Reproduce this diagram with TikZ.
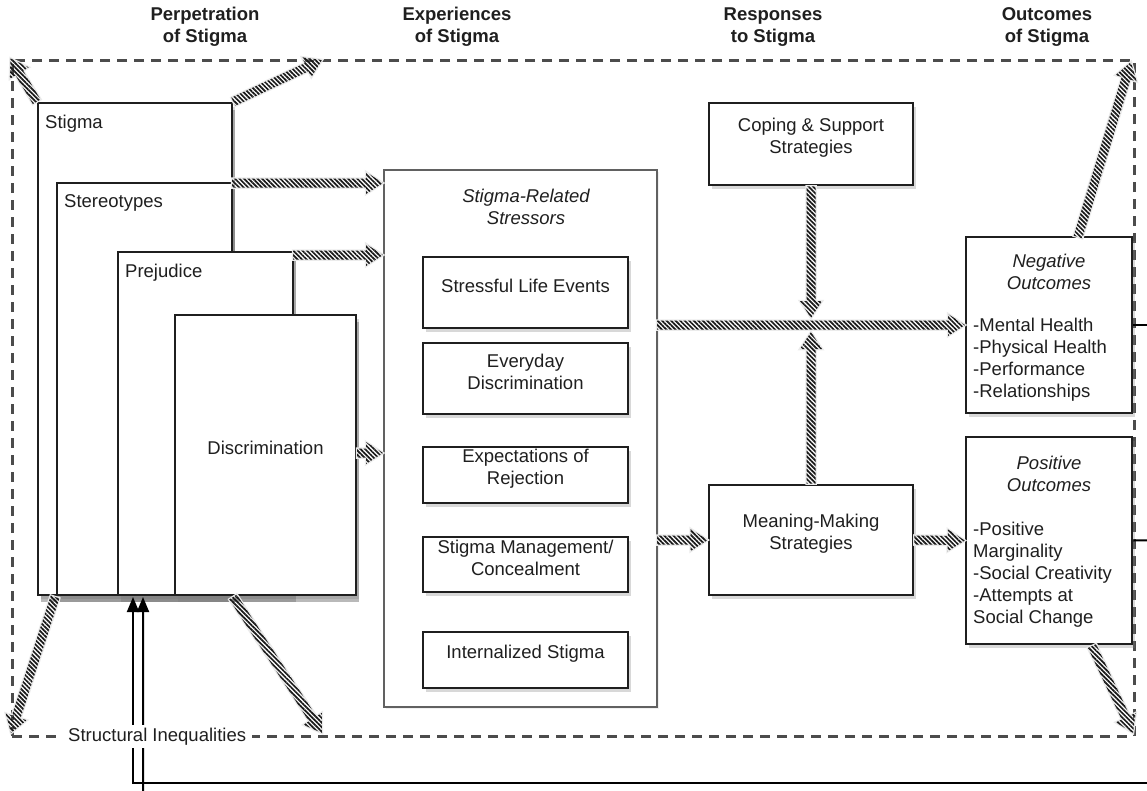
\documentclass[tikz,border=0pt]{standalone}
\usepackage{fontspec}
\setmainfont{Liberation Sans}
\usetikzlibrary{calc,fit,shadows,patterns.meta,arrows.meta}

\tikzset{
  txt/.style={font=\fontsize{18.5}{22}\selectfont, inner sep=0pt, text=black!88},
  ital/.style={txt, font=\fontsize{18.5}{22}\selectfont\itshape},
  head/.style={txt, font=\fontsize{18.5}{22}\selectfont\bfseries, align=center},
  box/.style={draw=black!88, line width=2.6pt, fill=white, inner sep=0pt,
    drop shadow={shadow xshift=2.5pt, shadow yshift=-3.5pt, opacity=0.3},
    font=\fontsize{18.5}{22}\selectfont, text=black!88, align=center},
  stackbox/.style={box, drop shadow={shadow xshift=3pt, shadow yshift=-7pt, opacity=0.55}},
  cbox/.style={draw=black!62, line width=1.8pt, fill=white, inner sep=0pt,
    drop shadow={shadow xshift=2pt, shadow yshift=-2pt, opacity=0.12}},
  dashbox/.style={draw=black!70, line width=3pt, dash pattern=on 10pt off 7pt, inner sep=0pt},
  hatch/.style={pattern={Lines[angle=-45,distance=3.2pt,line width=1.7pt]}, pattern color=black!90,
    preaction={draw=black!8, line width=2.5pt}},
  fb/.style={draw=black, line width=2pt, -{Triangle[length=15pt,width=12pt]}},
}

% hatched fat arrow between two named points
\newcommand\harr[2]{%
  \coordinate (hh) at ($(#2)!17pt!(#1)$);
  \path[hatch] ($(#1)!4.5pt!90:(#2)$) -- ($(hh)!4.5pt!90:(#2)$) -- ($(hh)!11pt!90:(#2)$)
    -- (#2) -- ($(hh)!11pt!-90:(#2)$) -- ($(hh)!4.5pt!-90:(#2)$) -- ($(#1)!4.5pt!-90:(#2)$) -- cycle;}

\begin{document}
\begin{tikzpicture}[x=1pt,y={(0pt,-1pt)}]
\useasboundingbox (0,0) rectangle (1147,790);
\clip (0,0) rectangle (1147,790);

% column headings
\node[head] (h1) at (205,27) {Perpetration\\of Stigma};
\node[head] (h2) at (457,27) {Experiences\\of Stigma};
\node[head] (h3) at (773,27) {Responses\\to Stigma};
\node[head] (h4) at (1047,27) {Outcomes\\of Stigma};

% outer dashed frame
\node[dashbox, fit={(12,60) (1134,736)}] (outer) {};

% feedback line ends
\coordinate (f1) at (133,597);
\coordinate (f2) at (143,597);

% left stack
\node[stackbox, fit={(38,103) (232,595)}] (stigma) {};
\node[stackbox, fit={(57,183) (232,595)}] (ster) {};
\node[stackbox, fit={(118,252) (293,595)}] (prej) {};
\node[stackbox, fit={(175,315) (356,595)}] (disc) {Discrimination};
\node[txt, anchor=base west] (lstigma) at (45,128) {Stigma};
\node[txt, anchor=base west] (lster) at (64,207) {Stereotypes};
\node[txt, anchor=base west] (lprej) at (125,277) {Prejudice};

% stressors container
\node[cbox, fit={(384,170) (657,707)}] (stress) {};
\node[ital, align=center] (lstress) at (526,207) {Stigma-Related\\Stressors};
\node[box, fit={(423,257) (628,328)}] (sle) {Stressful Life Events};
\node[box, fit={(423,343) (628,414)}] (ed) {Everyday\\Discrimination};
\node[box, fit={(423,447) (628,503)}] (er) {Expectations of\\Rejection};
\node[box, fit={(423,537) (628,592)}] (smc) {Stigma Management/\\Concealment};
\node[box, fit={(423,632) (628,688)}] (is) {Internalized Stigma};

% responses
\node[box, fit={(709,103) (913,185)}] (cope) {Coping \& Support\\Strategies};
\node[box, fit={(709,485) (913,595)}] (mean) {Meaning-Making\\Strategies};

% outcomes
\node[box, fit={(966,237) (1132,413)}] (neg) {};
\node[box, fit={(966,437) (1132,644)}] (pos) {};
\node[ital, align=center, anchor=north] (lneg) at (1049,253.5) {Negative\\Outcomes};
\node[txt, align=left, anchor=north west] (lnegl) at (973,317.7) {-Mental Health\\-Physical Health\\-Performance\\-Relationships};
\node[ital, align=center, anchor=north] (lpos) at (1049,455.7) {Positive\\Outcomes};
\node[txt, align=left, anchor=north west] (lposl) at (973,521.7) {-Positive\\Marginality\\-Social Creativity\\-Attempts at\\Social Change};

% feedback connectors
\draw[fb] (neg.east) -- (1165,325) -- (1165,783) -- (133,783) -- (f1);
\draw[fb] (pos.east) -- (1175,540) -- (1175,795) -- (143,795) -- (f2);

% hatched arrow end points
\coordinate (c2) at (322,60);
\coordinate (a3s) at (232,183);  \coordinate (a3e) at (383,183);
\coordinate (a4s) at (293,255);  \coordinate (a4e) at (383,255);
\coordinate (a5s) at (357,453);  \coordinate (a5e) at (383,453);
\coordinate (a6s) at (657,325);  \coordinate (a6e) at (965,325);
\coordinate (a7e) at (811,318);
\coordinate (a8e) at (811,332);
\coordinate (a9s) at (657,540);
\coordinate (a11s) at (1078,237); \coordinate (a11e) at (1131,62);
\coordinate (a12s) at (1092,646); \coordinate (a12e) at (1133,733);
\coordinate (a13s) at (55,597);   \coordinate (a13e) at (11,733);
\coordinate (a14s) at (233,597);  \coordinate (a14e) at (322,733);

\harr{stigma.north west}{outer.north west}
\harr{stigma.north east}{c2}
\harr{a3s}{a3e}
\harr{a4s}{a4e}
\harr{a5s}{a5e}
\harr{a6s}{a6e}
\harr{cope.south}{a7e}
\harr{mean.north}{a8e}
\harr{a9s}{mean.west}
\harr{mean.east}{pos.west}
\harr{a11s}{a11e}
\harr{a12s}{a12e}
\harr{a13s}{a13e}
\harr{a14s}{a14e}

% structural inequalities label on the frame
\node[txt, fill=white, inner xsep=6pt, inner ysep=3pt, anchor=base west] (lsi) at (62,741) {Structural Inequalities};
\end{tikzpicture}
\end{document}
